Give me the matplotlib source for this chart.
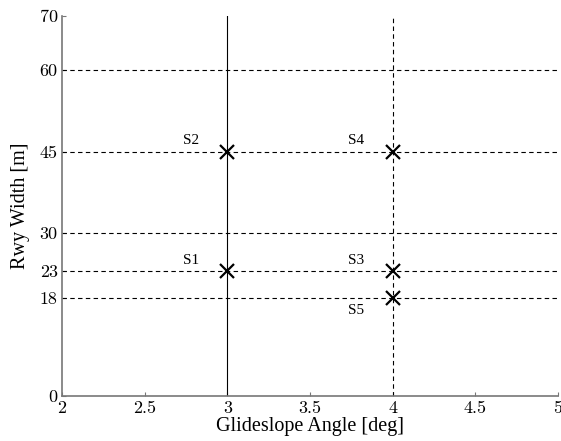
import numpy as np
import matplotlib
matplotlib.use("Agg")
import matplotlib.pyplot as plt

# design points
angles = [3, 3, 4, 4, 4]
widths = [23, 45, 23, 45, 18]
names = ['S1', 'S2', 'S3', 'S4', 'S5']
label_dx = [-0.22, -0.22, -0.22, -0.22, -0.22]
label_dy = [2.0, 2.0, 2.0, 2.0, -2.3]

hlines = [18, 23, 30, 45, 60]
xticks = [2, 2.5, 3, 3.5, 4, 4.5, 5]
yticks = [0, 18, 23, 30, 45, 60, 70]

fig = plt.figure(figsize=(5.61, 4.41), dpi=100)
ax = fig.add_axes([0.1105, 0.102, 0.884, 0.862])

for h in hlines:
    ax.plot([2, 5], [h, h], color='k', ls=(0, (4, 3)), lw=0.8)
ax.plot([3, 3], [0, 70], color='k', lw=0.8)
ax.plot([4, 4], [0, 70], color='k', ls=(0, (4, 3)), lw=0.8)

ax.plot(angles, widths, 'x', color='k', ms=10, mew=1.6)
for a, w, n, dx, dy in zip(angles, widths, names, label_dx, label_dy):
    ax.text(a + dx, w + dy, n, fontsize=11, family='Liberation Serif',
            ha='center', va='center')

ax.set_xlim(2, 5)
ax.set_ylim(0, 70)
ax.set_xticks(xticks)
ax.set_yticks(yticks)
ax.set_xticklabels([f'{t:g}' for t in xticks], family='cmr10', fontsize=13)
ax.set_yticklabels([f'{t:g}' for t in yticks], family='cmr10', fontsize=13)
ax.tick_params(direction='in', length=3, color='#777777', pad=3)

for s in ['top', 'right']:
    ax.spines[s].set_visible(False)
for s in ['left', 'bottom']:
    ax.spines[s].set_color('#777777')
    ax.spines[s].set_linewidth(1.2)

ax.set_xlabel('Glideslope Angle [deg]', family='Liberation Serif', fontsize=14.5, labelpad=1)
ax.set_ylabel('Rwy Width [m]', family='Liberation Serif', fontsize=14.5, labelpad=7)

fig.savefig('out.png', dpi=100)
